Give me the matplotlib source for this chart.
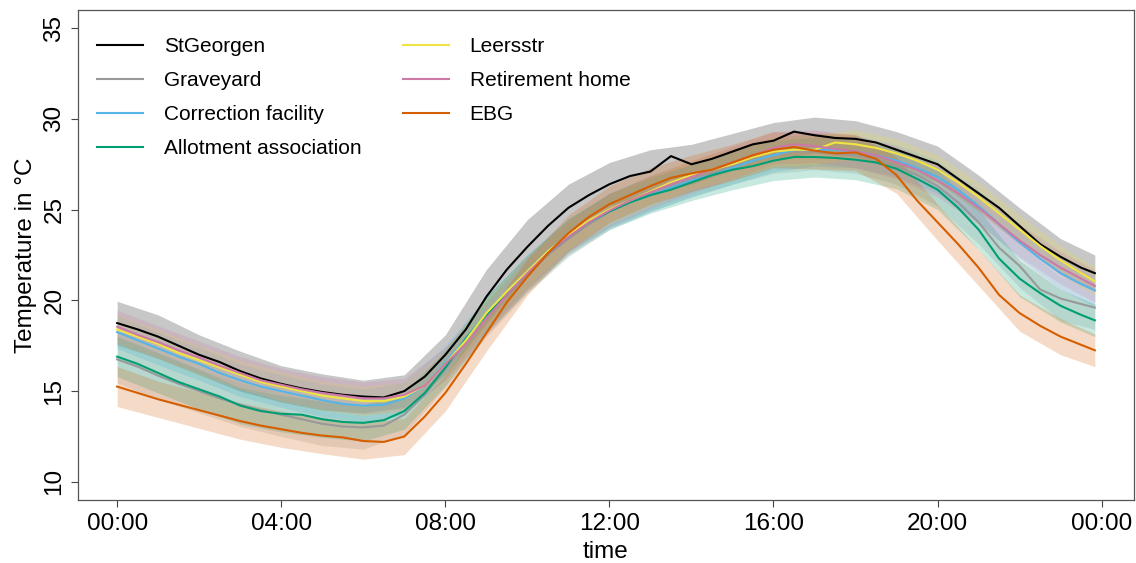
import numpy as np
import matplotlib.pyplot as plt

plt.rcParams['font.family'] = ['Liberation Sans', 'DejaVu Sans']

# half-hourly means, last value is 23:50
hours = np.append(np.arange(0, 24, 0.5), 23 + 50 / 60)

stgeorgen = [18.75, 18.4, 18.0, 17.5, 17.0, 16.6, 16.1, 15.7, 15.4, 15.15, 14.95, 14.8,
             14.7, 14.65, 15.0, 15.8, 17.0, 18.4, 20.2, 21.7, 22.95, 24.1, 25.1, 25.8,
             26.4, 26.85, 27.1, 27.95, 27.5, 27.8, 28.2, 28.6, 28.8, 29.3, 29.1, 28.95,
             28.9, 28.7, 28.3, 27.9, 27.5, 26.7, 25.9, 25.1, 24.1, 23.1, 22.4, 21.8, 21.5]
graveyard = [16.75, 16.35, 15.85, 15.4, 15.0, 14.6, 14.25, 13.95, 13.7, 13.45, 13.2, 13.05,
             13.0, 13.1, 13.7, 14.8, 16.2, 17.6, 19.0, 20.3, 21.4, 22.5, 23.4, 24.2,
             24.9, 25.4, 25.9, 26.3, 26.7, 27.0, 27.4, 27.7, 28.0, 28.2, 28.2, 28.1,
             28.0, 27.8, 27.4, 26.9, 26.3, 25.4, 24.3, 22.9, 21.9, 20.6, 20.1, 19.8, 19.6]
correction = [18.25, 17.8, 17.35, 16.9, 16.5, 16.0, 15.6, 15.25, 15.0, 14.75, 14.5, 14.3,
              14.2, 14.25, 14.6, 15.3, 16.6, 17.9, 19.3, 20.5, 21.6, 22.7, 23.6, 24.3,
              24.9, 25.4, 25.8, 26.2, 26.6, 26.9, 27.3, 27.7, 28.0, 28.3, 28.3, 28.3,
              28.2, 28.0, 27.7, 27.3, 26.8, 26.1, 25.2, 24.2, 23.2, 22.3, 21.5, 20.9, 20.55]
allotment = [16.9, 16.5, 16.0, 15.5, 15.1, 14.7, 14.2, 13.9, 13.75, 13.7, 13.45, 13.3,
             13.25, 13.4, 13.9, 14.9, 16.3, 17.9, 19.2, 20.3, 21.5, 22.6, 23.5, 24.3,
             24.9, 25.4, 25.8, 26.1, 26.5, 26.9, 27.2, 27.4, 27.7, 27.9, 27.9, 27.85,
             27.75, 27.6, 27.25, 26.7, 26.1, 25.1, 23.9, 22.3, 21.2, 20.4, 19.7, 19.2, 18.9]
leersstr = [18.4, 18.0, 17.6, 17.1, 16.7, 16.3, 15.9, 15.5, 15.25, 15.0, 14.75, 14.6,
            14.45, 14.45, 14.7, 15.3, 16.5, 17.8, 19.3, 20.5, 21.6, 22.7, 23.6, 24.4,
            25.0, 25.5, 26.0, 26.5, 26.9, 27.2, 27.5, 27.9, 28.2, 28.3, 28.3, 28.7,
            28.6, 28.4, 28.1, 27.7, 27.2, 26.5, 25.7, 24.8, 23.9, 23.0, 22.2, 21.5, 21.05]
retirement = [18.55, 18.1, 17.7, 17.25, 16.85, 16.4, 16.0, 15.6, 15.35, 15.1, 14.9, 14.75,
              14.6, 14.6, 14.8, 15.3, 16.5, 17.6, 19.0, 20.3, 21.5, 22.6, 23.5, 24.3,
              24.95, 25.5, 25.95, 26.4, 26.8, 27.2, 27.6, 28.0, 28.4, 28.6, 28.5, 28.35,
              28.2, 28.0, 27.6, 27.2, 26.6, 25.9, 25.1, 24.2, 23.3, 22.5, 21.8, 21.2, 20.8]
ebg = [15.25, 14.9, 14.55, 14.25, 13.95, 13.65, 13.35, 13.1, 12.9, 12.7, 12.55, 12.45,
       12.25, 12.2, 12.5, 13.6, 14.9, 16.5, 18.2, 19.9, 21.3, 22.6, 23.7, 24.6,
       25.3, 25.8, 26.3, 26.75, 27.0, 27.2, 27.6, 28.0, 28.3, 28.45, 28.25, 28.1,
       28.15, 27.8, 26.9, 25.5, 24.3, 23.1, 21.8, 20.3, 19.3, 18.6, 18.0, 17.55, 17.25]

# hourly spread of the stations (0:00 ... 23:00, 23:50)
sd_stgeorgen = [1.2, 1.2, 1.1, 1.1, 1.0, 1.0, 0.9, 0.9, 1.1, 1.5, 1.5, 1.3, 1.2,
                1.2, 1.1, 1.0, 1.0, 1.0, 1.0, 1.0, 1.0, 1.0, 1.0, 1.0, 1.0]
sd_graveyard = [1.3, 1.3, 1.2, 1.2, 1.2, 1.2, 1.2, 1.1, 1.0, 1.0, 1.0, 1.0, 1.0,
                1.0, 1.0, 1.0, 1.0, 1.0, 1.0, 1.0, 1.1, 1.2, 1.2, 1.2, 1.2]
sd_correction = [0.9, 0.9, 0.9, 0.9, 0.9, 0.9, 0.9, 0.9, 0.9, 0.9, 0.9, 0.9, 0.9,
                 0.9, 0.9, 0.9, 0.9, 0.9, 0.9, 0.9, 0.9, 0.9, 0.9, 0.9, 0.9]
sd_allotment = [1.1, 1.1, 1.1, 1.0, 1.0, 1.0, 1.0, 1.0, 1.0, 1.0, 1.0, 1.0, 1.0,
                1.0, 1.0, 1.1, 1.1, 1.1, 1.1, 1.1, 1.1, 1.1, 1.0, 0.9, 0.9]
sd_leersstr = [0.8, 0.8, 0.8, 0.8, 0.8, 0.8, 0.8, 0.8, 0.8, 0.8, 0.8, 0.8, 0.8,
               0.8, 0.8, 0.8, 0.8, 0.8, 0.8, 0.8, 0.8, 0.8, 0.8, 0.8, 0.8]
sd_retirement = [0.9, 0.9, 0.9, 0.9, 0.9, 0.9, 0.9, 0.9, 0.9, 0.9, 0.9, 0.9, 0.9,
                 0.9, 0.9, 0.9, 0.9, 0.9, 0.9, 0.9, 0.9, 0.9, 0.9, 0.9, 0.9]
sd_ebg = [1.1, 1.0, 1.0, 1.0, 1.0, 1.0, 1.0, 1.0, 1.0, 1.0, 1.0, 1.0, 1.0,
          1.0, 1.0, 1.0, 1.0, 1.0, 1.0, 1.0, 1.0, 1.0, 1.0, 1.0, 0.9]

names = ["StGeorgen", "Graveyard", "Correction facility", "Allotment association",
         "Leersstr", "Retirement home", "EBG"]
colors = ["#000000", "#999999", "#56B4E9", "#009E73", "#F0E442", "#CC79A7", "#D55E00"]
means = [stgeorgen, graveyard, correction, allotment, leersstr, retirement, ebg]
spreads = [sd_stgeorgen, sd_graveyard, sd_correction, sd_allotment,
           sd_leersstr, sd_retirement, sd_ebg]

fig, ax = plt.subplots(figsize=(11.36, 5.63), dpi=100)
fig.subplots_adjust(left=0.0687, right=0.9982, bottom=0.1119, top=0.9822)

# each station: band first, then its mean line, so later bands veil earlier lines
for name, col, m, s in zip(names, colors, means, spreads):
    m = np.asarray(m)
    s = np.asarray(s)
    ax.fill_between(hours[::2], m[::2] - s, m[::2] + s, color=col, alpha=0.22, lw=0)
    ax.plot(hours, m, color=col, lw=1.5, label=name)

ax.set_xlim(-0.953, 24.787)
ax.set_ylim(9, 36)
ax.set_xticks([0, 4, 8, 12, 16, 20, 24])
ax.set_xticklabels(["00:00", "04:00", "08:00", "12:00", "16:00", "20:00", "00:00"])
ax.set_yticks([10, 15, 20, 25, 30, 35])
plt.setp(ax.get_yticklabels(), rotation=90, va='center')
ax.tick_params(labelsize=17.5, length=5, width=0.8, color='#444444')
ax.tick_params(axis='x', pad=4)
ax.tick_params(axis='y', pad=4)
for sp in ax.spines.values():
    sp.set_color('#555555')
    sp.set_linewidth(0.9)

ax.set_xlabel("time", fontsize=17.5, labelpad=5)
ax.set_ylabel("Temperature in °C", fontsize=17.5, labelpad=5)

ax.legend(ncol=2, loc='upper left', bbox_to_anchor=(0.018, 0.945), frameon=False,
          fontsize=15, handlelength=2.2, handletextpad=1.0, columnspacing=2.0,
          labelspacing=0.72, borderpad=0, borderaxespad=0)

fig.savefig("out.png", dpi=100)
